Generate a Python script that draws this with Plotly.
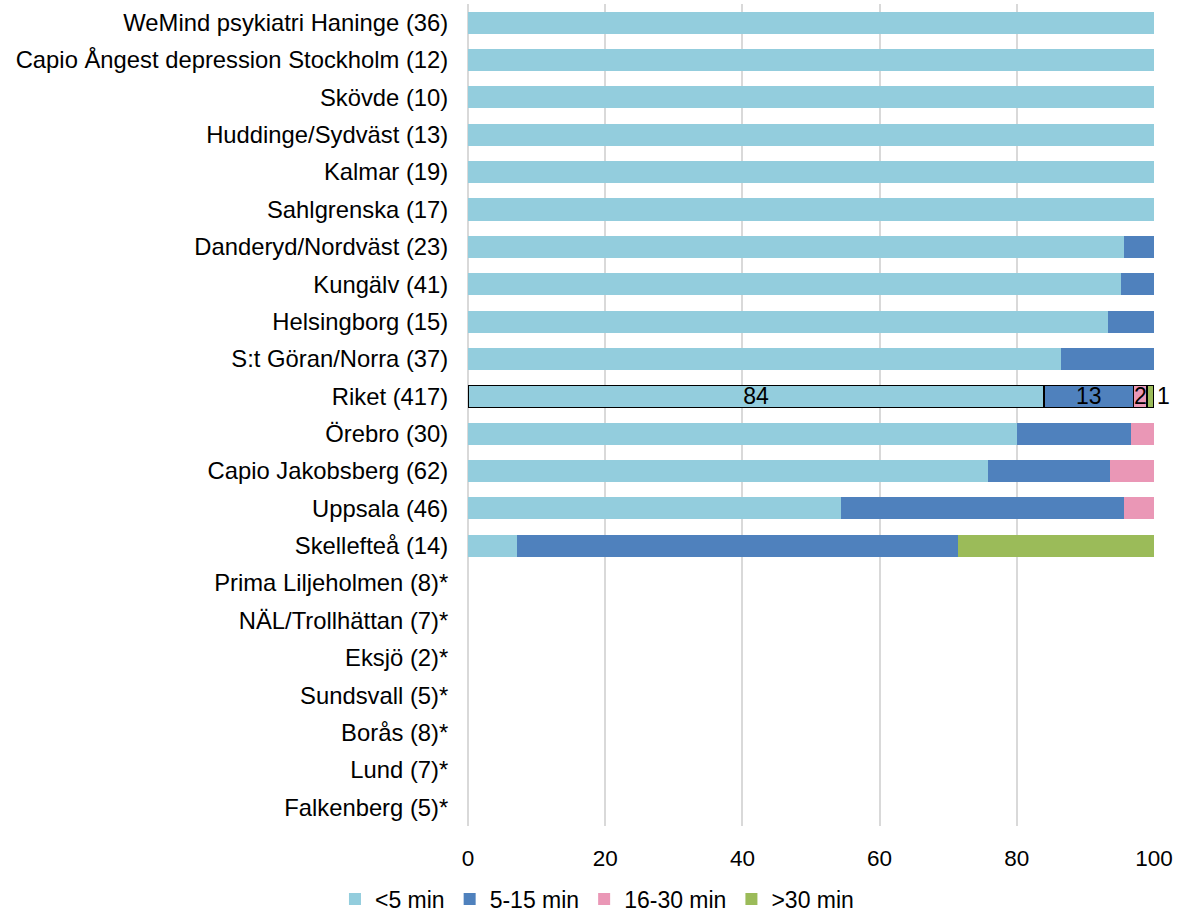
import plotly.graph_objects as go

# Clinics (number of patients); "*" marks units with too few patients to report
units = [
    "WeMind psykiatri Haninge (36)",
    "Capio Ångest depression Stockholm (12)",
    "Skövde (10)",
    "Huddinge/Sydväst (13)",
    "Kalmar (19)",
    "Sahlgrenska (17)",
    "Danderyd/Nordväst (23)",
    "Kungälv (41)",
    "Helsingborg (15)",
    "S:t Göran/Norra (37)",
    "Riket (417)",
    "Örebro (30)",
    "Capio Jakobsberg (62)",
    "Uppsala (46)",
    "Skellefteå (14)",
    "Prima Liljeholmen (8)*",
    "NÄL/Trollhättan (7)*",
    "Eksjö (2)*",
    "Sundsvall (5)*",
    "Borås (8)*",
    "Lund (7)*",
    "Falkenberg (5)*",
]

# Share of patients (%) per time band
under_5 = [100, 100, 100, 100, 100, 100, 95.65, 95.12, 93.33, 86.49, 84,
           80.0, 75.81, 54.35, 7.14, None, None, None, None, None, None, None]
min_5_15 = [0, 0, 0, 0, 0, 0, 4.35, 4.88, 6.67, 13.51, 13,
            16.67, 17.74, 41.30, 64.29, None, None, None, None, None, None, None]
min_16_30 = [0, 0, 0, 0, 0, 0, 0, 0, 0, 0, 2,
             3.33, 6.45, 4.35, 0, None, None, None, None, None, None, None]
over_30 = [0, 0, 0, 0, 0, 0, 0, 0, 0, 0, 1,
           0, 0, 0, 28.57, None, None, None, None, None, None, None]

series = [
    ("<5 min", under_5, "#93CDDD"),
    ("5-15 min", min_5_15, "#4F81BD"),
    ("16-30 min", min_16_30, "#EA97B6"),
    (">30 min", over_30, "#9BBB59"),
]

FONT = "Liberation Sans, Arial, sans-serif"
highlight = "Riket (417)"

fig = go.Figure()
for i, (name, vals, color) in enumerate(series):
    texts = []
    for u, v in zip(units, vals):
        texts.append(f"{v:g}" if u == highlight and v else "")
    line_w = [1.6 if u == highlight else 0 for u in units]
    fig.add_trace(go.Bar(
        name=name,
        y=units,
        x=vals,
        orientation="h",
        marker=dict(color=color, line=dict(color="black", width=line_w)),
        text=texts,
        textposition="outside" if i == len(series) - 1 else "inside",
        insidetextanchor="middle",
        textangle=0,
        constraintext="none",
        cliponaxis=False,
        textfont=dict(family=FONT, size=23, color="black"),
        hoverinfo="skip",
    ))

fig.update_layout(
    barmode="stack",
    bargap=0.41,
    width=1180,
    height=917,
    margin=dict(l=468, r=26, t=4, b=91, autoexpand=False),
    paper_bgcolor="white",
    plot_bgcolor="white",
    font=dict(family=FONT, size=23, color="black"),
    showlegend=True,
    legend=dict(
        orientation="h",
        x=0.188,
        xanchor="center",
        y=-0.089,
        yanchor="middle",
        font=dict(family=FONT, size=23, color="black"),
        itemwidth=30,
        traceorder="normal",
    ),
)

fig.update_xaxes(
    range=[0, 100],
    dtick=20,
    showgrid=True,
    gridcolor="#D9D9D9",
    gridwidth=2,
    zeroline=True,
    zerolinecolor="#D9D9D9",
    zerolinewidth=2,
    showline=False,
    ticks="outside",
    ticklen=12,
    tickcolor="rgba(0,0,0,0)",
    tickfont=dict(family=FONT, size=22.5, color="black"),
)
fig.update_yaxes(
    categoryorder="array",
    categoryarray=units,
    autorange="reversed",
    showgrid=False,
    ticks="outside",
    ticklen=14,
    tickcolor="rgba(0,0,0,0)",
    tickfont=dict(family=FONT, size=23.8, color="black"),
)

fig.write_html("out.html")
